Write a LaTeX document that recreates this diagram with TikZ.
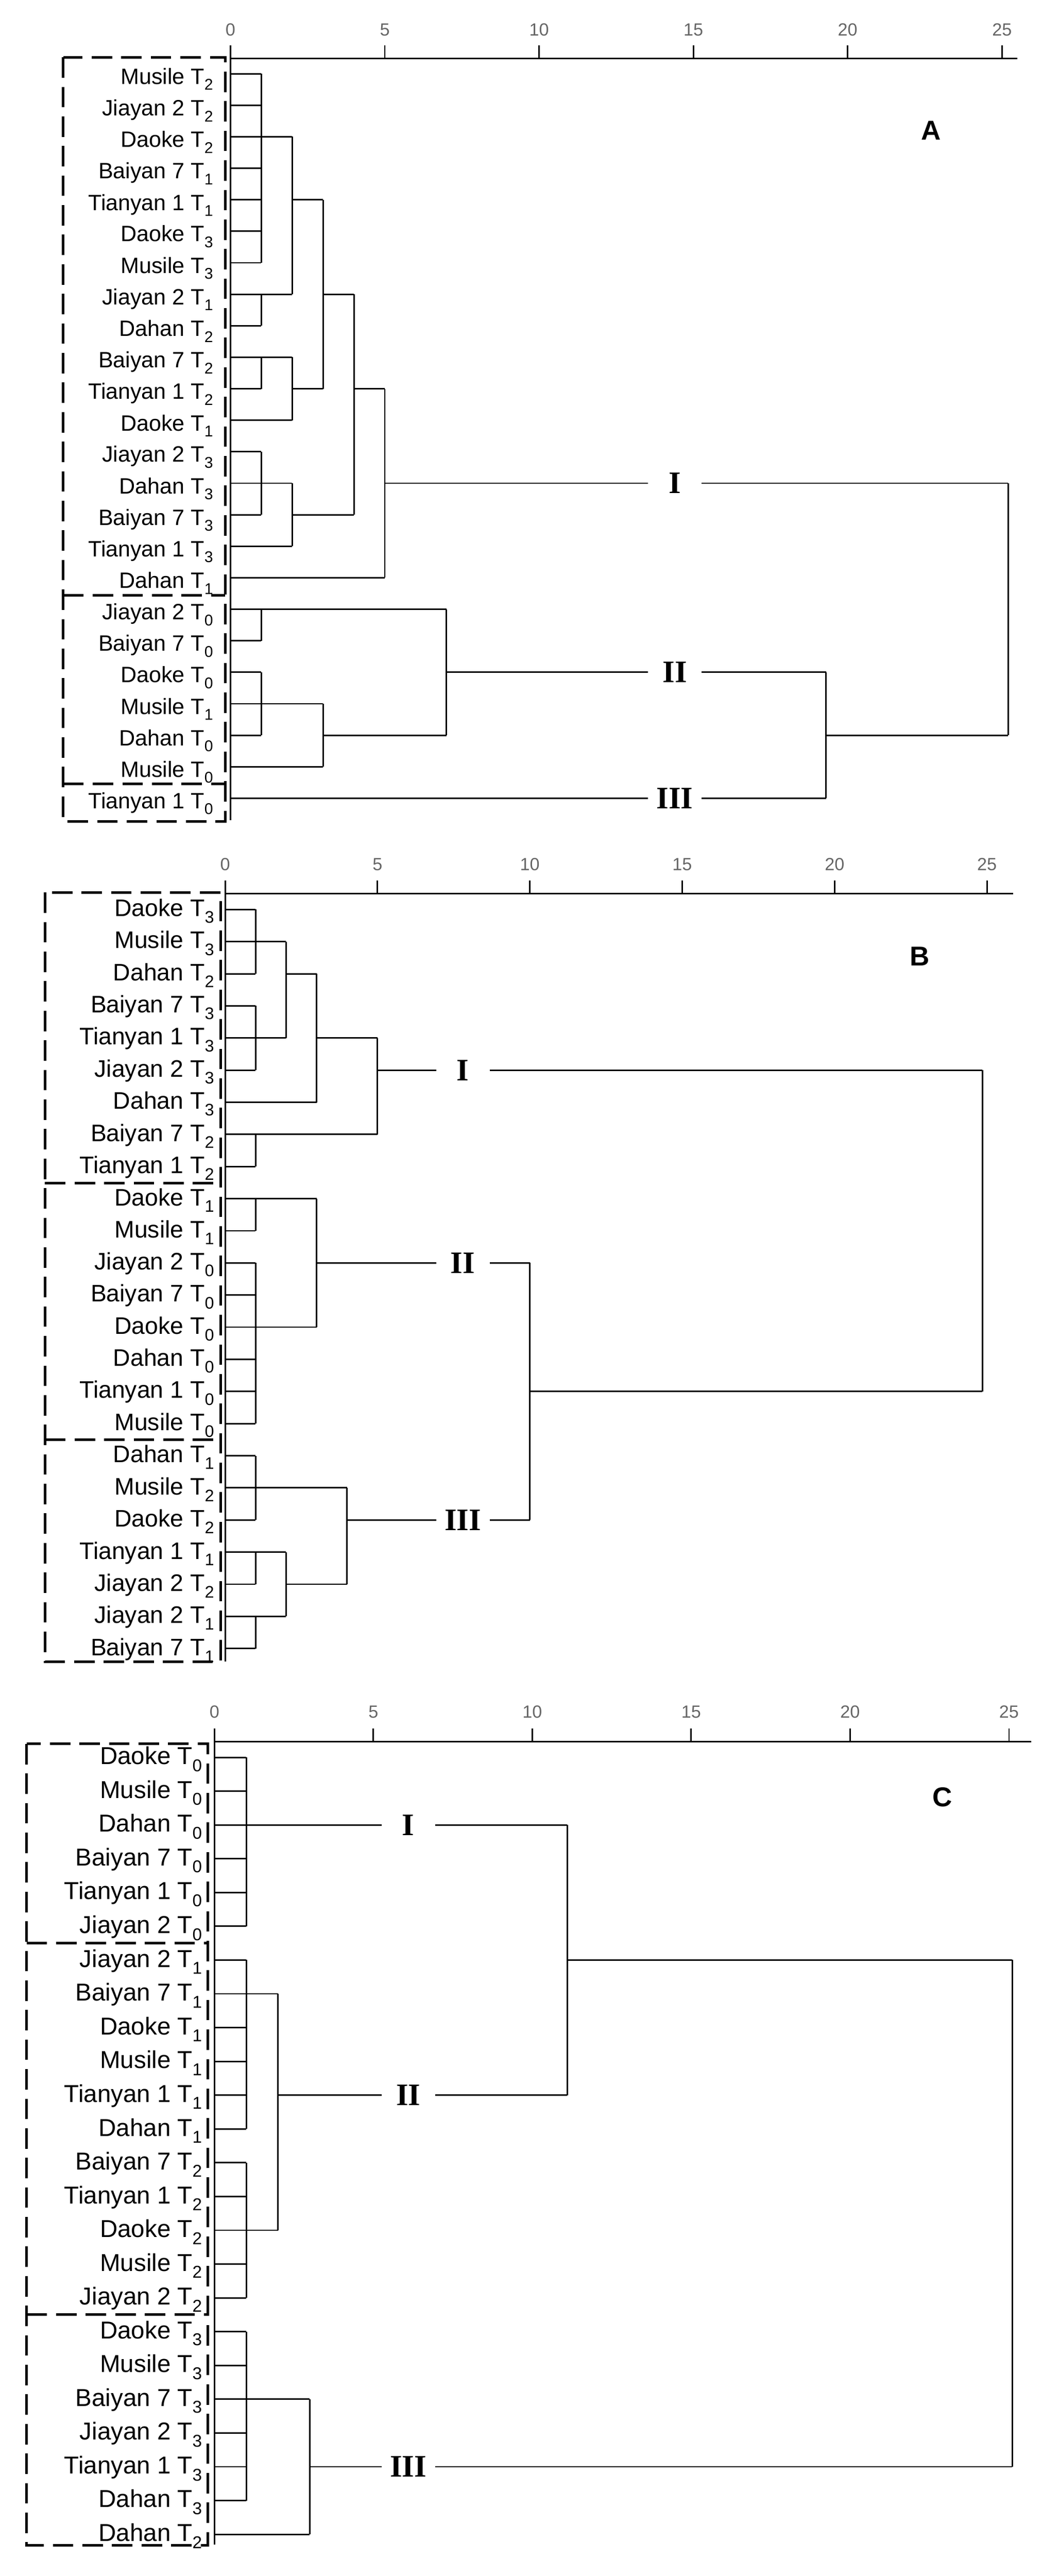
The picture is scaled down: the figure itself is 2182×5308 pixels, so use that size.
\documentclass[tikz,border=0pt]{standalone}
\usepackage{fontspec}
\setmainfont{Liberation Sans}
\newfontfamily\romfont{Liberation Serif}
\newcommand{\Tsub}[1]{T\textsubscript{#1}}

\begin{document}
\begin{tikzpicture}[x=0.03cm, y=-0.03cm, line join=miter,
  tree/.style={line width=2.6pt},
  box/.style={line width=4.5pt, dash pattern=on 36pt off 16pt},
  leaf/.style={anchor=east, inner sep=0pt},
  roman/.style={font=\romfont\bfseries\fontsize{55}{60}\selectfont, inner sep=0pt, minimum width=3.3cm},
  tick/.style={font=\fontsize{31}{34}\selectfont, text=black!60},
  panel/.style={font=\bfseries\fontsize{48}{52}\selectfont}]

\useasboundingbox (0,0) rectangle (2182,5308);

% ---------- A
\begin{scope}[shift={(14.25cm,-4.56cm)}, x=1.908cm, y=-1.947cm]
\draw[tree] (0,-0.485) -- (25.5,-0.485);
\foreach \t in {0,5,...,25} {
  \draw[tree] (\t,-0.485) -- (\t,-0.9);
  \node[tick] (at\t) at (\t,-1.4) {\t};
}
\draw[tree] (0,-0.485) -- (0,23.7);
\draw[box] (-5.42,-0.524) rectangle (-0.173,23.74);
\draw[box] (-5.42,16.56) -- (-0.173,16.56);
\draw[box] (-5.42,22.54) -- (-0.173,22.54);
\node[panel] (pa) at (22.7,1.8) {A};
\foreach \lab [count=\i from 0] in {Musile \Tsub{2},Jiayan 2 \Tsub{2},Daoke \Tsub{2},
  Baiyan 7 \Tsub{1},Tianyan 1 \Tsub{1},Daoke \Tsub{3},Musile \Tsub{3},Jiayan 2 \Tsub{1},
  Dahan \Tsub{2},Baiyan 7 \Tsub{2},Tianyan 1 \Tsub{2},Daoke \Tsub{1},Jiayan 2 \Tsub{3},
  Dahan \Tsub{3},Baiyan 7 \Tsub{3},Tianyan 1 \Tsub{3},Dahan \Tsub{1},Jiayan 2 \Tsub{0},
  Baiyan 7 \Tsub{0},Daoke \Tsub{0},Musile \Tsub{1},Dahan \Tsub{0},Musile \Tsub{0},Tianyan 1 \Tsub{0}}
  \node[leaf, font=\fontsize{39}{42}\selectfont] (a\i) at (-0.55,\i+0.17) {\lab};
\foreach \r/\h in {0/1,1/1,2/1,3/1,4/1,5/1,6/1,7/1,8/1,9/1,10/1,11/2,12/1,13/1,14/1,
  15/2,16/5,17/1,18/1,19/1,20/1,21/1,22/3}
  \draw[tree] (0,\r) -- (\h,\r);
\node[roman] (aI) at (14.4,13) {I};
\node[roman] (aII) at (14.4,19) {II};
\node[roman] (aIII) at (14.4,23) {III};
\draw[tree] (1,0) -- (1,6) (1,2) -- (2,2) (1,7) -- (1,8) (1,7) -- (2,7)
  (2,2) -- (2,7) (2,4) -- (3,4) (1,9) -- (1,10) (1,9) -- (2,9) (2,9) -- (2,11)
  (2,10) -- (3,10) (3,4) -- (3,10) (3,7) -- (4,7) (1,12) -- (1,14) (1,13) -- (2,13)
  (2,13) -- (2,15) (2,14) -- (4,14) (4,7) -- (4,14) (4,10) -- (5,10) (5,10) -- (5,16);
\draw[tree] (5,13) -- (aI.west) (aI.east) -- (25.2,13);
\draw[tree] (1,17) -- (1,18) (1,17) -- (7,17) (1,19) -- (1,21) (1,20) -- (3,20)
  (3,20) -- (3,22) (3,21) -- (7,21) (7,17) -- (7,21);
\draw[tree] (7,19) -- (aII.west) (aII.east) -- (19.3,19);
\draw[tree] (0,23) -- (aIII.west) (aIII.east) -- (19.3,23);
\draw[tree] (19.3,19) -- (19.3,23) (19.3,21) -- (25.2,21) (25.2,13) -- (25.2,21);
\end{scope}

% ---------- B
\begin{scope}[shift={(13.92cm,-56.22cm)}, x=1.884cm, y=-1.986cm]
\draw[tree] (0,-0.5) -- (25.86,-0.5);
\foreach \t in {0,5,...,25} {
  \draw[tree] (\t,-0.5) -- (\t,-0.9);
  \node[tick] (bt\t) at (\t,-1.4) {\t};
}
\draw[tree] (0,-0.5) -- (0,23.4);
\draw[box] (-5.91,-0.53) rectangle (-0.14,23.41);
\draw[box] (-5.91,8.52) -- (-0.14,8.52);
\draw[box] (-5.91,16.5) -- (-0.14,16.5);
\node[panel] (pb) at (22.8,1.45) {B};
\foreach \lab [count=\i from 0] in {Daoke \Tsub{3},Musile \Tsub{3},Dahan \Tsub{2},
  Baiyan 7 \Tsub{3},Tianyan 1 \Tsub{3},Jiayan 2 \Tsub{3},Dahan \Tsub{3},Baiyan 7 \Tsub{2},
  Tianyan 1 \Tsub{2},Daoke \Tsub{1},Musile \Tsub{1},Jiayan 2 \Tsub{0},Baiyan 7 \Tsub{0},
  Daoke \Tsub{0},Dahan \Tsub{0},Tianyan 1 \Tsub{0},Musile \Tsub{0},Dahan \Tsub{1},
  Musile \Tsub{2},Daoke \Tsub{2},Tianyan 1 \Tsub{1},Jiayan 2 \Tsub{2},Jiayan 2 \Tsub{1},Baiyan 7 \Tsub{1}}
  \node[leaf, font=\fontsize{42}{45}\selectfont] (b\i) at (-0.35,\i+0.05) {\lab};
\foreach \r/\h in {0/1,1/1,2/1,3/1,4/1,5/1,6/3,7/1,8/1,9/1,10/1,11/1,12/1,13/1,14/1,
  15/1,16/1,17/1,18/1,19/1,20/1,21/1,22/1,23/1}
  \draw[tree] (0,\r) -- (\h,\r);
\node[roman] (bI) at (7.8,5) {I};
\node[roman] (bII) at (7.8,11) {II};
\node[roman] (bIII) at (7.8,19) {III};
\draw[tree] (1,0) -- (1,2) (1,1) -- (2,1) (1,3) -- (1,5) (1,4) -- (2,4) (2,1) -- (2,4)
  (2,2) -- (3,2) (3,2) -- (3,6) (3,4) -- (5,4) (1,7) -- (1,8) (1,7) -- (5,7) (5,4) -- (5,7);
\draw[tree] (5,5) -- (bI.west) (bI.east) -- (24.85,5);
\draw[tree] (1,9) -- (1,10) (1,9) -- (3,9) (1,11) -- (1,16) (1,13) -- (3,13) (3,9) -- (3,13);
\draw[tree] (3,11) -- (bII.west) (bII.east) -- (10,11);
\draw[tree] (1,17) -- (1,19) (1,18) -- (4,18) (1,20) -- (1,21) (1,20) -- (2,20)
  (1,22) -- (1,23) (1,22) -- (2,22) (2,20) -- (2,22) (2,21) -- (4,21) (4,18) -- (4,21);
\draw[tree] (4,19) -- (bIII.west) (bIII.east) -- (10,19);
\draw[tree] (10,11) -- (10,19) (10,15) -- (24.85,15) (24.85,5) -- (24.85,15);
\end{scope}

% ---------- C
\begin{scope}[shift={(13.26cm,-108.63cm)}, x=1.965cm, y=-2.088cm]
\draw[tree] (0,-0.46) -- (25.7,-0.46);
\foreach \t in {0,5,...,25} {
  \draw[tree] (\t,-0.46) -- (\t,-0.85);
  \node[tick] (ct\t) at (\t,-1.35) {\t};
}
\draw[tree] (0,-0.46) -- (0,23.3);
\draw[box] (-5.91,-0.4) rectangle (-0.21,23.33);
\draw[box] (-5.91,5.5) -- (-0.21,5.5);
\draw[box] (-5.91,16.5) -- (-0.21,16.5);
\node[panel] (pc) at (22.9,1.18) {C};
\foreach \lab [count=\i from 0] in {Daoke \Tsub{0},Musile \Tsub{0},Dahan \Tsub{0},
  Baiyan 7 \Tsub{0},Tianyan 1 \Tsub{0},Jiayan 2 \Tsub{0},Jiayan 2 \Tsub{1},Baiyan 7 \Tsub{1},
  Daoke \Tsub{1},Musile \Tsub{1},Tianyan 1 \Tsub{1},Dahan \Tsub{1},Baiyan 7 \Tsub{2},
  Tianyan 1 \Tsub{2},Daoke \Tsub{2},Musile \Tsub{2},Jiayan 2 \Tsub{2},Daoke \Tsub{3},
  Musile \Tsub{3},Baiyan 7 \Tsub{3},Jiayan 2 \Tsub{3},Tianyan 1 \Tsub{3},Dahan \Tsub{3},Dahan \Tsub{2}}
  \node[leaf, font=\fontsize{43}{46}\selectfont] (c\i) at (-0.38,\i+0.05) {\lab};
\foreach \r/\h in {0/1,1/1,2/1,3/1,4/1,5/1,6/1,7/1,8/1,9/1,10/1,11/1,12/1,13/1,14/1,
  15/1,16/1,17/1,18/1,19/1,20/1,21/1,22/1,23/3}
  \draw[tree] (0,\r) -- (\h,\r);
\node[roman] (cI) at (6.1,2) {I};
\node[roman] (cII) at (6.1,10) {II};
\node[roman] (cIII) at (6.1,21) {III};
\draw[tree] (1,0) -- (1,5);
\draw[tree] (1,2) -- (cI.west) (cI.east) -- (11.1,2);
\draw[tree] (1,6) -- (1,11) (1,7) -- (2,7) (1,12) -- (1,16) (1,14) -- (2,14) (2,7) -- (2,14);
\draw[tree] (2,10) -- (cII.west) (cII.east) -- (11.1,10);
\draw[tree] (11.1,2) -- (11.1,10) (11.1,6) -- (25.1,6);
\draw[tree] (1,17) -- (1,22) (1,19) -- (3,19) (3,19) -- (3,23);
\draw[tree] (3,21) -- (cIII.west) (cIII.east) -- (25.1,21);
\draw[tree] (25.1,6) -- (25.1,21);
\end{scope}

\end{tikzpicture}
\end{document}
